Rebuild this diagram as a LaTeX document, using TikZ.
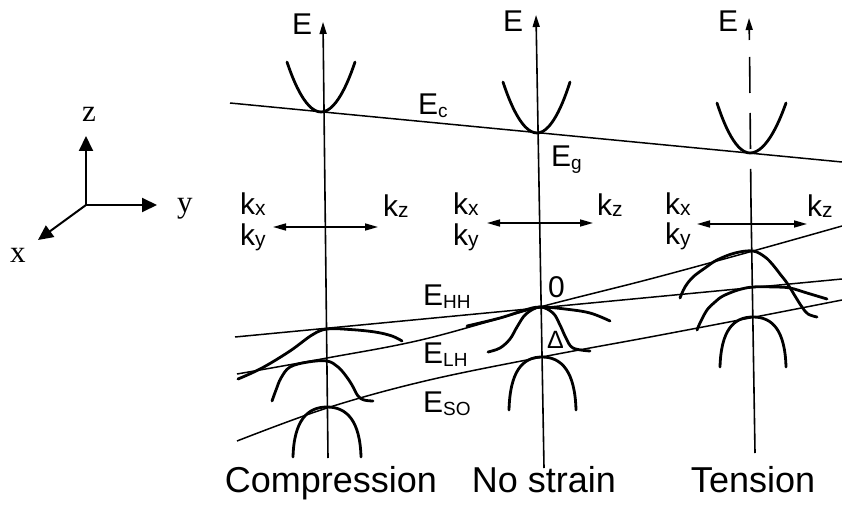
\documentclass[tikz,border=0pt]{standalone}
\usepackage{fontspec}
\setmainfont{Liberation Sans}
\newfontfamily\xyzfont{Liberation Serif}
\usetikzlibrary{arrows.meta}
\newcommand\labsize{\fontsize{30pt}{30pt}\selectfont}
\newcommand\subsize{\fontsize{19pt}{19pt}\selectfont}
\newcommand\ksubsize{\fontsize{21pt}{21pt}\selectfont}
\newcommand\Elab[1]{E\raisebox{-3pt}{\subsize #1}}
\newcommand\klab[1]{k\raisebox{-1pt}{\ksubsize #1}}
\begin{document}
\begin{tikzpicture}[x=1pt,y=-1pt,
  band/.style={line width=2.8pt, line cap=round, line join=round},
  lvl/.style={line width=1.5pt},
  ax/.style={line width=1.6pt},
  earrow/.style={ax, -{Triangle[length=12pt,width=7pt]}},
  karrow/.style={line width=1.6pt, {Triangle[length=13pt,width=7pt]}-{Triangle[length=13pt,width=7pt]}},
  xyzarrow/.style={line width=2pt, -{Triangle[length=15pt,width=14pt]}},
  lab/.style={inner sep=0pt, font=\labsize, anchor=base west},
  xyzlab/.style={inner sep=0pt, font=\xyzfont\fontsize{31pt}{31pt}\selectfont, anchor=base west},
  bottomlab/.style={inner sep=0pt, font=\fontsize{36pt}{36pt}\selectfont, anchor=base}]
\useasboundingbox (0,0) rectangle (842,505);

% ---- coordinate system
\coordinate (O) at (86,205);
\coordinate (zT) at (86,136);
\coordinate (yT) at (157,205);
\coordinate (xT) at (38,240);
\draw[xyzarrow] (O) -- (zT);
\draw[xyzarrow] (O) -- (yT);
\draw[xyzarrow] (O) -- (xT);
\node[xyzlab] (zl) at (82,122) {z};
\node[xyzlab] (yl) at (177,212) {y};
\node[xyzlab] (xl) at (10,262) {x};

% ---- vertical axes
\coordinate (cTop) at (323,22);  \coordinate (cBot) at (328,458);
\coordinate (nTop) at (536,15);  \coordinate (nBot) at (544,468);
\coordinate (tTop) at (749,18);  \coordinate (tA) at (749.4,40);
\coordinate (tB) at (749.6,57);  \coordinate (tC) at (751,205);
\coordinate (tBot) at (755,453);
\draw[earrow] (cBot) -- (cTop);
\draw[earrow] (nBot) -- (nTop);
\draw[earrow] (tA) -- (tTop);
\draw[ax, dash pattern=on 36pt off 20pt] (tB) -- (tC);
\draw[ax] (tC) -- (tBot);

\node[lab] (Ec1) at (292,35) {E};
\node[lab] (En1) at (503,32) {E};
\node[lab] (Et1) at (718,32) {E};

% ---- k axes
\coordinate (ckL) at (273,227); \coordinate (ckR) at (378,227);
\coordinate (nkL) at (487,223); \coordinate (nkR) at (593,223);
\coordinate (tkL) at (697,224); \coordinate (tkR) at (807,224);
\draw[karrow] (ckL) -- (ckR);
\draw[karrow] (nkL) -- (nkR);
\draw[karrow] (tkL) -- (tkR);
\node[lab] (ckx) at (240,214) {\klab{x}};
\node[lab] (cky) at (240,245) {\klab{y}};
\node[lab] (ckz) at (383,216) {\klab{z}};
\node[lab] (nkx) at (453,214) {\klab{x}};
\node[lab] (nky) at (453,245) {\klab{y}};
\node[lab] (nkz) at (597,215) {\klab{z}};
\node[lab] (tkx) at (665,214) {\klab{x}};
\node[lab] (tky) at (665,244) {\klab{y}};
\node[lab] (tkz) at (807,216) {\klab{z}};

% ---- conduction band edge line and parabolas
\coordinate (ecL) at (230,103); \coordinate (ecR) at (842,162);
\draw[lvl] (ecL) -- (ecR);
\draw[band] (287,62) parabola bend (321,112) (355,62);
\draw[band] (503,82) parabola bend (537,133) (570,82);
\draw[band] (717,103) parabola bend (750,153) (786,103);
\node[lab] (Ecl) at (418,115) {\Elab{c}};
\node[lab] (Egl) at (551,167) {\Elab{g}};

% ---- valence level lines
\coordinate (hhL) at (235,337); \coordinate (hhR) at (842,279);
\draw[lvl] (hhL) -- (hhR);
\draw[lvl] plot[smooth, tension=0.6] coordinates {(237,374) (327,358) (425,339) (540,307) (650,279) (753,251) (842,226)};
\draw[lvl] plot[smooth, tension=0.6] coordinates {(237,441) (327,408) (425,381) (542,357) (650,337) (755,317) (842,300)};

\node[lab] (EHH) at (423,305) {\Elab{HH}};
\node[lab] (ELH) at (423,363) {\Elab{LH}};
\node[lab] (ESO) at (423,412) {\Elab{SO}};
\node[lab] (zero) at (548,297) {0};
\node[lab, font=\fontsize{25pt}{25pt}\selectfont] (delta) at (547,348) {Δ};

% ---- compression valence bands
\draw[band] plot[smooth, tension=0.6] coordinates {(238,379) (262,368) (290,351) (312,335) (327,329) (350,329.5) (375,332) (392,336) (402,341)};
\draw[band] plot[smooth, tension=0.6] coordinates {(272,401) (276,390) (281,378) (290,367) (308,362) (327,361) (338,367) (346,376) (352,385) (358,396) (364,400) (373,401)};
\draw[band] (293,457) .. controls (294,421) and (307,407) .. (327,407) .. controls (347,407) and (360,421) .. (361,457);

% ---- no strain valence bands
\draw[band] plot[smooth, tension=0.6] coordinates {(467,326) (500,318) (525,310) (540,307) (565,309) (590,313) (610,321)};
\draw[band] plot[smooth, tension=0.6] coordinates {(488,352) (500,348) (510,339) (517,327) (526,314) (540,307) (553,313) (560,325) (566,338) (573,348) (590,351)};
\draw[band] (509,410) .. controls (510,372) and (522,357) .. (542,357) .. controls (562,357) and (575,372) .. (576,410);

% ---- tension valence bands
\draw[band] plot[smooth, tension=0.6] coordinates {(680,298) (685,287) (693,277) (705,268) (717,260) (735,253) (753,251) (765,257) (773,265) (780,274) (787,283) (795,296) (802,307) (808,314) (817,317)};
\draw[band] plot[smooth, tension=0.6] coordinates {(697,330) (700,323) (707,310) (715,302) (723,296) (738,290) (753,287) (775,287) (790,288) (807,293) (827,299)};
\draw[band] (720,367) .. controls (721,331) and (733,317) .. (753,317) .. controls (773,317) and (785,331) .. (786,367);

% ---- bottom labels
\node[bottomlab] (comp) at (331,492) {Compression};
\node[bottomlab] (nos) at (544,492) {No strain};
\node[bottomlab] (tens) at (753,492) {Tension};
\end{tikzpicture}
\end{document}
